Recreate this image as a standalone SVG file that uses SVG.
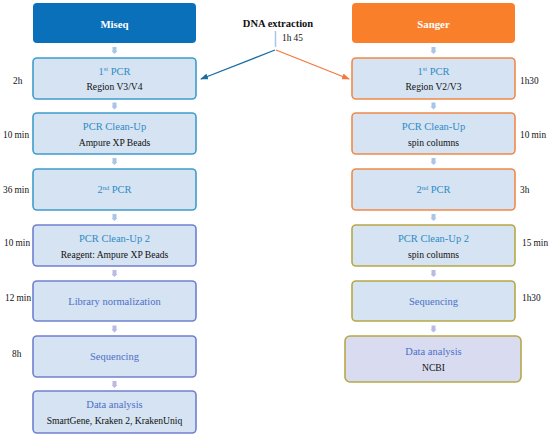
<svg xmlns="http://www.w3.org/2000/svg" width="550" height="437" viewBox="0 0 550 437">
<style>
text{font-family:"Liberation Serif","DejaVu Serif",serif;}
.box{fill:#D5E3F2;stroke-width:1.6;}
.bt{stroke:#3F9CCB;}
.bp{stroke:#6F80CF;}
.bo{stroke:#F0894A;}
.bg{stroke:#B6A846;}
.t1{font-size:10.5px;fill:#2E8CC6;text-anchor:middle;}
.t2{font-size:10.5px;fill:#4D6FC8;text-anchor:middle;}
.sub{font-size:9.6px;fill:#111;text-anchor:middle;}
.tm{font-size:9.3px;fill:#111;}
.hd{font-size:10.8px;font-weight:bold;fill:#fff;text-anchor:middle;}
.sa1{fill:#A9C5E7;}
.sa2{fill:#B9BAE6;}
</style>
<defs>
<marker id="mb" markerWidth="8" markerHeight="6" refX="7" refY="3" orient="auto" markerUnits="userSpaceOnUse"><path d="M0,0 L8,3 L0,6 Z" fill="#1B6FA3"/></marker>
<marker id="mo" markerWidth="8" markerHeight="6" refX="7" refY="3" orient="auto" markerUnits="userSpaceOnUse"><path d="M0,0 L8,3 L0,6 Z" fill="#F27A3A"/></marker>
<marker id="ml" markerWidth="6" markerHeight="5" refX="3" refY="4" orient="auto-start-reverse" markerUnits="userSpaceOnUse"><path d="M0,0 L3,4 L6,0" fill="none" stroke="#A9C5E7"/></marker>
<path id="sarr" d="M-2,0 H2 V4 H3 L0,7 L-3,4 H-2 Z"/>
</defs>

<g id="dna">
<text x="278" y="27" font-size="10.5" font-weight="bold" text-anchor="middle" fill="#111">DNA extraction</text>
<text x="282" y="41" class="tm">1h 45</text>
</g>

<g id="connectors">
<line x1="275.5" y1="31" x2="275.5" y2="47" stroke="#A9C5E7" stroke-width="1.5"/>
<line x1="275" y1="50" x2="201" y2="79" stroke="#1B6FA3" stroke-width="1.3" marker-end="url(#mb)"/>
<line x1="276" y1="50" x2="349" y2="79" stroke="#F27A3A" stroke-width="1.3" marker-end="url(#mo)"/>
<g class="sa1">
<use href="#sarr" x="114.5" y="47"/>
<use href="#sarr" x="114.5" y="102.5"/>
<use href="#sarr" x="114.5" y="158"/>
<use href="#sarr" x="114.5" y="214"/>
<use href="#sarr" x="433.5" y="47"/>
<use href="#sarr" x="433.5" y="102.5"/>
<use href="#sarr" x="433.5" y="158"/>
<use href="#sarr" x="433.5" y="214"/>
</g>
<g class="sa2">
<use href="#sarr" x="114.5" y="270"/>
<use href="#sarr" x="114.5" y="325.5"/>
<use href="#sarr" x="114.5" y="381"/>
<use href="#sarr" x="433.5" y="270"/>
<use href="#sarr" x="433.5" y="325.5"/>
</g>
</g>

<g id="miseq">
<rect x="33" y="3" width="163" height="40" rx="4" fill="#0A70BA"/>
<text x="114.5" y="28" class="hd">Miseq</text>
</g>
<g id="sanger">
<rect x="352" y="3" width="163" height="40" rx="4" fill="#FA7F2B"/>
<text x="433.5" y="28" class="hd">Sanger</text>
</g>

<g id="m-pcr1">
<rect x="33" y="58" width="163" height="41" rx="4" class="box bt"/>
<text x="114.5" y="74.5" class="t1">1<tspan font-size="6.5" dy="-3.5">st</tspan><tspan dy="3.5"> PCR</tspan></text>
<text x="114.5" y="90" class="sub">Region V3/V4</text>
<text x="13" y="83.5" class="tm">2h</text>
</g>
<g id="m-clean1">
<rect x="33" y="113" width="163" height="41" rx="4" class="box bt"/>
<text x="114.5" y="129.5" class="t1">PCR Clean-Up</text>
<text x="114.5" y="145.5" class="sub">Ampure XP Beads</text>
<text x="3" y="137.5" class="tm">10 min</text>
</g>
<g id="m-pcr2">
<rect x="33" y="169" width="163" height="41" rx="4" class="box bt"/>
<text x="114.5" y="193" class="t1">2<tspan font-size="6.5" dy="-3.5">nd</tspan><tspan dy="3.5">  PCR</tspan></text>
<text x="3" y="193" class="tm">36 min</text>
</g>
<g id="m-clean2">
<rect x="33" y="225" width="163" height="41" rx="4" class="box bp"/>
<text x="114.5" y="241.5" class="t1">PCR Clean-Up  2</text>
<text x="114.5" y="257.5" class="sub">Reagent: Ampure XP Beads</text>
<text x="4" y="245.5" class="tm">10 min</text>
</g>
<g id="m-lib">
<rect x="33" y="281" width="163" height="40" rx="4" class="box bp"/>
<text x="114.5" y="304.5" class="t2">Library normalization</text>
<text x="5" y="300.5" class="tm">12 min</text>
</g>
<g id="m-seq">
<rect x="33" y="336" width="163" height="41" rx="4" class="box bp"/>
<text x="114.5" y="360" class="t2">Sequencing</text>
<text x="12" y="356.5" class="tm">8h</text>
</g>
<g id="m-data">
<rect x="33" y="391" width="163" height="42" rx="4" class="box bp"/>
<text x="114.5" y="408" class="t2">Data analysis</text>
<text x="114.5" y="424" class="sub">SmartGene, Kraken 2, KrakenUniq</text>
</g>

<g id="s-pcr1">
<rect x="352" y="58" width="163" height="41" rx="4" class="box bo"/>
<text x="433.5" y="74.5" class="t1">1<tspan font-size="6.5" dy="-3.5">st</tspan><tspan dy="3.5"> PCR</tspan></text>
<text x="433.5" y="90" class="sub">Region V2/V3</text>
<text x="520" y="84" class="tm">1h30</text>
</g>
<g id="s-clean1">
<rect x="352" y="113" width="163" height="41" rx="4" class="box bo"/>
<text x="433.5" y="129.5" class="t1">PCR Clean-Up</text>
<text x="433.5" y="145.5" class="sub">spin  columns</text>
<text x="520" y="137.5" class="tm">10 min</text>
</g>
<g id="s-pcr2">
<rect x="352" y="169" width="163" height="41" rx="4" class="box bo"/>
<text x="433.5" y="193" class="t1">2<tspan font-size="6.5" dy="-3.5">nd</tspan><tspan dy="3.5">  PCR</tspan></text>
<text x="520" y="192.5" class="tm">3h</text>
</g>
<g id="s-clean2">
<rect x="352" y="225" width="163" height="41" rx="4" class="box bg"/>
<text x="433.5" y="241.5" class="t1">PCR Clean-Up  2</text>
<text x="433.5" y="257.5" class="sub">spin  columns</text>
<text x="522" y="246" class="tm">15 min</text>
</g>
<g id="s-seq">
<rect x="352" y="281" width="163" height="40" rx="4" class="box bg"/>
<text x="433.5" y="304.5" class="t2">Sequencing</text>
<text x="522" y="300.5" class="tm">1h30</text>
</g>
<g id="s-data">
<rect x="345" y="336" width="176" height="46" rx="5" fill="#D9DCF1" stroke="#B6A846" stroke-width="1.6"/>
<text x="433.5" y="354.5" class="t2">Data analysis</text>
<text x="433.5" y="370.5" class="sub">NCBI</text>
</g>
</svg>
